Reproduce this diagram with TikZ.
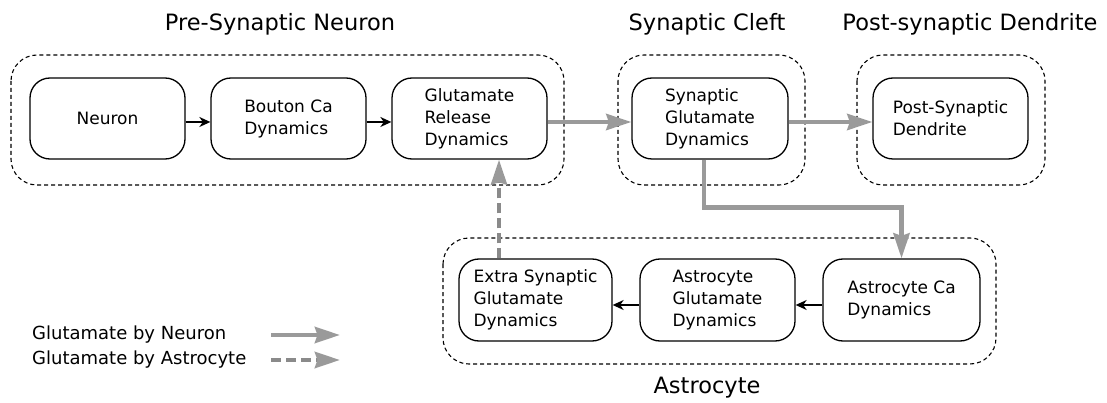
\documentclass[tikz,border=0pt]{standalone}
\usepackage{fontspec}
\setmainfont{DejaVu Sans}
\usetikzlibrary{arrows.meta}
\definecolor{agray}{HTML}{9A9A9A}
\definecolor{dgray}{HTML}{8A8A8A}
\begin{document}
\begin{tikzpicture}[x=1pt,y=-1pt,
  blockbox/.style={draw=black, line width=1.3pt, rounded corners=20pt, align=left,
    font=\fontsize{17}{22}\selectfont, inner sep=0pt},
  groupbox/.style={draw=black, line width=1.1pt, dash pattern=on 4pt off 3pt, rounded corners=26pt},
  title/.style={font=\fontsize{22.5}{27}\selectfont},
  legtext/.style={font=\fontsize{18}{24}\selectfont, anchor=west, inner sep=0pt},
  blk/.style={line width=1.7pt, -{Stealth[length=11pt,width=10pt,inset=3.5pt]}},
  garrow/.style={draw=agray, line width=4.5pt, -{Stealth[length=25pt,width=16pt,inset=2.5pt]}},
  gdash/.style={draw=dgray, line width=4.5pt, dash pattern=on 10pt off 5pt, -{Stealth[length=25pt,width=16pt,inset=2.5pt,color=agray]}}
]
\useasboundingbox (0,0) rectangle (1107,403);

% group boxes
\draw[groupbox] (11,55) rectangle (564,185);
\draw[groupbox] (618,55) rectangle (805,185);
\draw[groupbox] (857,55) rectangle (1045,185);
\draw[groupbox] (443,238) rectangle (996,364);

% titles
\node[title] (tpre) at (280,24) {Pre-Synaptic Neuron};
\node[title] (tcleft) at (707,24) {Synaptic Cleft};
\node[title] (tpost) at (970,24) {Post-synaptic Dendrite};
\node[title] (tastro) at (707,388) {Astrocyte};

% blocks
\node[blockbox, minimum width=155pt, minimum height=81pt] (neuron) at (107.5,118.5) {Neuron};
\node[blockbox, minimum width=155pt, minimum height=81pt] (bouton) at (288.5,118.5) {Bouton Ca\\Dynamics};
\node[blockbox, minimum width=155pt, minimum height=81pt] (glut) at (469.5,118.5) {Glutamate\\Release\\Dynamics};
\node[blockbox, minimum width=156pt, minimum height=81pt] (syn) at (710,118.5) {Synaptic\\Glutamate\\Dynamics};
\node[blockbox, minimum width=155pt, minimum height=81pt] (post) at (950.5,118.5) {Post-Synaptic\\Dendrite};
\node[blockbox, minimum width=153pt, minimum height=82pt] (extra) at (535.5,300) {Extra Synaptic\\Glutamate\\Dynamics};
\node[blockbox, minimum width=155pt, minimum height=82pt] (astglut) at (717.5,300) {Astrocyte\\Glutamate\\Dynamics};
\node[blockbox, minimum width=157pt, minimum height=82pt] (astca) at (901.5,300) {Astrocyte Ca\\Dynamics};

% black arrows
\draw[blk] ([yshift=-3.5pt]neuron.east) -- ([yshift=-3.5pt]bouton.west);
\draw[blk] ([yshift=-3.5pt]bouton.east) -- ([yshift=-3.5pt]glut.west);
\draw[blk] ([yshift=-5pt]astca.west) -- ([yshift=-5pt]astglut.east);
\draw[blk] ([yshift=-5pt]astglut.west) -- ([yshift=-5pt]extra.east);

% gray arrows
\draw[garrow] ([yshift=-3.5pt]glut.east) -- ([yshift=-3.5pt]syn.west);
\draw[garrow] ([yshift=-3.5pt]syn.east) -- ([yshift=-3.5pt]post.west);
\draw[garrow] ([xshift=-6pt]syn.south) -- ++(0,48) -| (astca.north);
\draw[gdash] (extra.north -| 499,0) -- (glut.south -| 499,0);

% legend
\node[legtext] (leg1) at (32,335) {Glutamate by Neuron};
\node[legtext] (leg2) at (32,360) {Glutamate by Astrocyte};
\coordinate (l1s) at (271,335);
\coordinate (l1e) at (340,335);
\coordinate (l2s) at (271,360);
\coordinate (l2e) at (340,360);
\draw[garrow] (l1s) -- (l1e);
\draw[gdash] (l2s) -- (l2e);
\end{tikzpicture}
\end{document}
